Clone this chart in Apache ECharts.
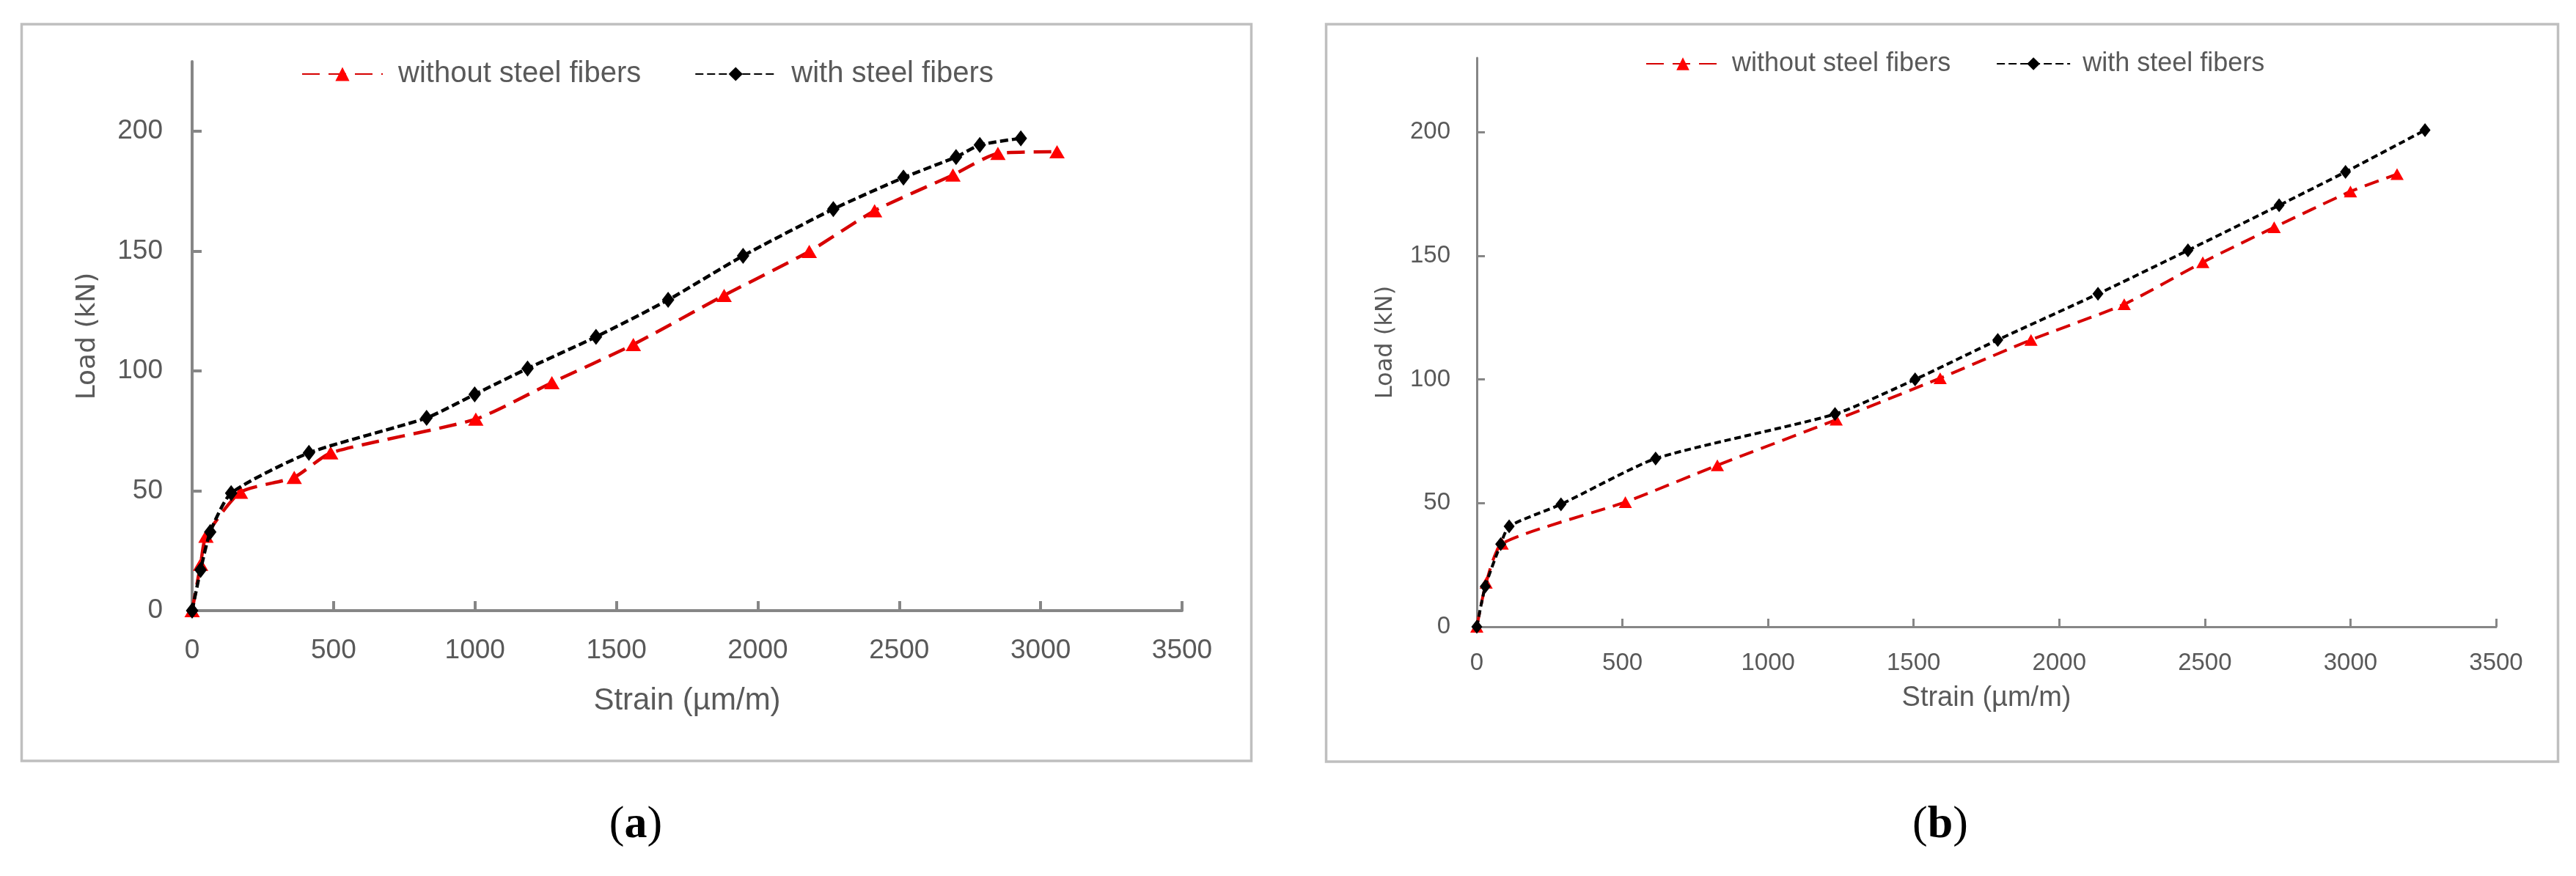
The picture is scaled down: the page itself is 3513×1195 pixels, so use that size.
<!DOCTYPE html>
<html>
<head>
<meta charset="utf-8">
<title>Load-strain curves</title>
<script src="https://cdn.jsdelivr.net/npm/echarts@6/dist/echarts.min.js"></script>
<style>
  html, body { margin: 0; padding: 0; background: #fff; }
  #chart { width: 3513px; height: 1195px; }
</style>
</head>
<body>
<div id="chart"></div>
<script>
// panel (a)
const strainA_plain = [0, 30, 49, 171, 361, 490, 1003, 1272, 1560, 1881, 2182, 2413, 2690, 2849, 3058]
const loadA_plain = [0, 19.3, 31, 49.4, 55.6, 65.8, 79.9, 95.1, 111, 131.5, 149.8, 166.8, 181.7, 190.7, 191.4]
const strainA_fiber = [0, 30, 64, 138, 413, 829, 999, 1186, 1428, 1683, 1948, 2267, 2515, 2701, 2785, 2930]
const loadA_fiber = [0, 17, 32.8, 49, 65.8, 80.4, 90.2, 101, 114.2, 129.6, 148, 167.5, 180.6, 189.2, 194.2, 197]

// panel (b)
const strainB_plain = [0, 32, 87, 510, 826, 1234, 1591, 1903, 2223, 2493, 2738, 3000, 3160]
const loadB_plain = [0, 17.8, 33.6, 50.4, 65.3, 83.7, 100.5, 116, 130.4, 147.4, 161.5, 176, 183]
const strainB_fiber = [0, 29, 82, 111, 289, 614, 1230, 1505, 1789, 2133, 2442, 2755, 2983, 3256]
const loadB_fiber = [0, 16.3, 33.4, 40.6, 49.5, 68, 86, 100, 116, 134.6, 152.2, 170.4, 183.9, 200.8]

const yTicks = [0, 50, 100, 150, 200]
const seriesNames = ['without steel fibers', 'with steel fibers']
const panelLabels = ['a', 'b']

const pair = (xs, ys) => xs.map((x, i) => [x, ys[i]])

const textGray = '#595959'
const axisGray = '#868686'

function xAxisOf(gridIndex, s) {
  return {
    type: 'value', gridIndex, min: 0, max: 3500, interval: 500,
    name: 'Strain (µm/m)', nameLocation: 'middle', nameGap: s.xNameGap,
    nameTextStyle: { color: textGray, fontSize: s.nameSize, fontFamily: 'Liberation Sans' },
    axisLine: { lineStyle: { color: axisGray, width: s.axisW } },
    axisTick: { inside: true, length: s.tickLen, lineStyle: { color: axisGray, width: s.axisW } },
    axisLabel: {
      color: textGray, fontSize: s.labelSize, margin: s.xMargin, fontFamily: 'Liberation Sans',
      formatter: v => String(v)
    },
    splitLine: { show: false }
  }
}

function yAxisOf(gridIndex, s) {
  return {
    type: 'value', gridIndex, min: 0, max: s.yMax,
    name: 'Load (kN)', nameLocation: 'middle', nameGap: s.yNameGap, nameRotate: 90,
    nameTextStyle: { color: textGray, fontSize: s.yNameSize, fontFamily: 'DejaVu Sans' },
    axisLine: { lineStyle: { color: axisGray, width: s.axisW } },
    axisTick: { inside: true, length: s.tickLen, customValues: yTicks, lineStyle: { color: axisGray, width: s.axisW } },
    axisLabel: {
      color: textGray, fontSize: s.labelSize, margin: s.yMargin, customValues: yTicks, fontFamily: 'Liberation Sans',
      formatter: v => String(v)
    },
    splitLine: { show: false }
  }
}

function seriesOf(idx, plain, fiber, s) {
  return [
    {
      name: seriesNames[0], type: 'line', xAxisIndex: idx, yAxisIndex: idx,
      data: plain, smooth: 0.2,
      symbol: 'triangle', symbolSize: s.triSize,
      itemStyle: { color: '#ff0000' },
      lineStyle: { color: '#d60000', width: s.lineW, type: s.redDash },
      z: 2
    },
    {
      name: seriesNames[1], type: 'line', xAxisIndex: idx, yAxisIndex: idx,
      data: fiber, smooth: 0.2,
      symbol: 'diamond', symbolSize: s.diaSize,
      itemStyle: { color: '#000000' },
      lineStyle: { color: '#000000', width: s.lineW, type: s.blackDash },
      z: 3
    }
  ]
}

function legendOf(s) {
  return {
    left: s.legendLeft, top: s.legendTop, itemWidth: s.itemW, itemHeight: s.itemH, itemGap: s.itemGap,
    data: seriesNames.map(n => ({ name: n })),
    textStyle: { color: textGray, fontSize: s.legendSize, fontFamily: 'Liberation Sans', padding: [0, 0, 0, s.textPad] },
    selectedMode: false
  }
}

const sa = {
  yMax: 229, axisW: 4, tickLen: 13, labelSize: 37, nameSize: 42, yNameSize: 36,
  xMargin: 36, yMargin: 40, xNameGap: 102, yNameGap: 124,
  lineW: 4.5, redDash: [24, 12], blackDash: [11, 5], triSize: [21, 18], diaSize: [17, 22],
  legendLeft: 406, legendTop: 76, itemW: 110, itemH: 24, itemGap: 73, legendSize: 40, textPad: 16
}
const sb = {
  yMax: 230, axisW: 3, tickLen: 11, labelSize: 33, nameSize: 38, yNameSize: 32,
  xMargin: 33, yMargin: 36, xNameGap: 79, yNameGap: 108,
  lineW: 4, redDash: [20, 11], blackDash: [9, 5], triSize: [18, 16], diaSize: [15, 19],
  legendLeft: 2239, legendTop: 64, itemW: 100, itemH: 22, itemGap: 62, legendSize: 36, textPad: 12
}

const panelBoxes = [
  { x: 29.5, y: 33, w: 1677, h: 1005, cx: 867 },
  { x: 1808.5, y: 33, w: 1680, h: 1006, cx: 2646 }
]

const chart = echarts.init(document.getElementById('chart'), null, { renderer: 'canvas' })

const option = {
  backgroundColor: '#ffffff',
  animation: false,
  grid: [
    { left: 262, right: 1901, top: 84, bottom: 362, outerBoundsMode: 'none' },
    { left: 2014, right: 109, top: 79, bottom: 340, outerBoundsMode: 'none' }
  ],
  legend: [legendOf(sa), legendOf(sb)],
  xAxis: [xAxisOf(0, sa), xAxisOf(1, sb)],
  yAxis: [yAxisOf(0, sa), yAxisOf(1, sb)],
  series: [
    ...seriesOf(0, pair(strainA_plain, loadA_plain), pair(strainA_fiber, loadA_fiber), sa),
    ...seriesOf(1, pair(strainB_plain, loadB_plain), pair(strainB_fiber, loadB_fiber), sb)
  ],
  graphic: [
    ...panelBoxes.map(b => ({
      type: 'rect', silent: true, z: -1,
      shape: { x: b.x, y: b.y, width: b.w, height: b.h },
      style: { fill: null, stroke: '#bfbfbf', lineWidth: 3.5 }
    })),
    ...panelBoxes.map((b, i) => ({
      type: 'text', silent: true,
      x: b.cx, y: 1126,
      style: {
        text: '{p|(}{b|' + panelLabels[i] + '}{p|)}',
        align: 'center', verticalAlign: 'middle',
        rich: {
          p: { fontFamily: 'Liberation Serif', fontSize: 62, fill: '#000' },
          b: { fontFamily: 'Liberation Serif', fontSize: 62, fontWeight: 'bold', fill: '#000' }
        }
      }
    }))
  ]
}

chart.setOption(option)
window.addEventListener('resize', () => chart.resize())
</script>
</body>
</html>
